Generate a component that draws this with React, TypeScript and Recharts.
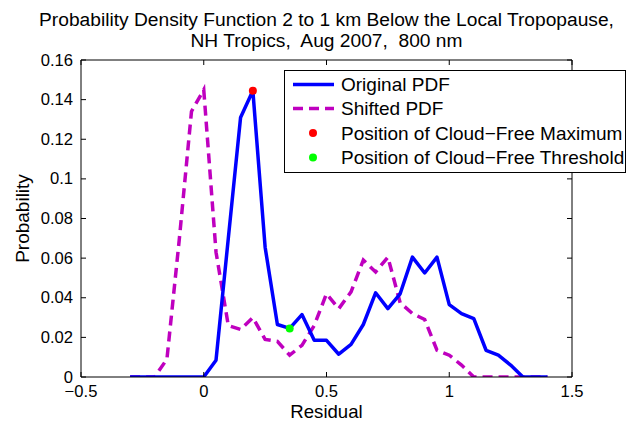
import React from 'react';
import { ComposedChart, Line, XAxis, YAxis, ReferenceDot } from 'recharts';

// Residual bin centres shared by both curves
const BINS = [
  -0.3, -0.25, -0.2, -0.15, -0.1, -0.05, 0, 0.05, 0.1, 0.15, 0.2, 0.25,
  0.3, 0.35, 0.4, 0.45, 0.5, 0.55, 0.6, 0.65, 0.7, 0.75, 0.8, 0.85, 0.9,
  0.95, 1.0, 1.05, 1.1, 1.15, 1.2, 1.25, 1.3, 1.35, 1.4,
];

const ORIGINAL_PDF = [
  0, 0, 0, 0, 0, 0, 0, 0.0085, 0.07, 0.131, 0.1445, 0.0655,
  0.0265, 0.0245, 0.0315, 0.0185, 0.0185, 0.0115, 0.0165, 0.0265, 0.0425, 0.0345, 0.042, 0.0605, 0.0525,
  0.0605, 0.0365, 0.032, 0.0295, 0.0135, 0.011, 0.006, 0, 0, 0,
];

const SHIFTED_PDF = [
  0, 0, 0, 0.009, 0.069, 0.134, 0.145, 0.063, 0.026, 0.024, 0.03, 0.019,
  0.018, 0.011, 0.016, 0.026, 0.042, 0.0345, 0.043, 0.059, 0.053, 0.0605, 0.0375, 0.032, 0.029,
  0.0135, 0.011, 0.006, 0, 0, 0, 0, 0, 0, 0,
];

const MAX_POINT = { x: 0.2, y: 0.1445 };
const THRESHOLD_POINT = { x: 0.35, y: 0.0245 };

const X_TICKS = [-0.5, 0, 0.5, 1, 1.5];
const Y_TICKS = [0, 0.02, 0.04, 0.06, 0.08, 0.1, 0.12, 0.14, 0.16];

const TITLE_LINES = [
  'Probability Density Function 2 to 1 km Below the Local Tropopause,',
  'NH Tropics,  Aug 2007,  800 nm',
];

const FONT = '"Liberation Sans", Arial, Helvetica, sans-serif';
const WIDTH = 630;
const HEIGHT = 423;
// axes take 1px each, so the plot box lands at x 81..572, y 60..377
const MARGIN = { top: 59, right: 57, bottom: 45, left: 80 };
const PLOT = { left: 81, right: 572, top: 60, bottom: 377 };
const TICK_LEN = 5;
const TICK_FONT = 16.6;
const LABEL_FONT = 19;
const BLUE = '#0000ff';
const MAGENTA = '#bf00bf';

const chartData = BINS.map((x, i) => ({
  x,
  original: ORIGINAL_PDF[i],
  shifted: SHIFTED_PDF[i],
}));

const fmt = (v: number) => (v < 0 ? '\u2212' + Math.abs(v) : String(v));

// MATLAB-style ticks: marks point into the plot box, labels sit outside
const BottomTick = ({ x, y, payload }: any) => (
  <g>
    <line x1={x} x2={x} y1={y} y2={y - TICK_LEN} stroke="#000" />
    <text x={x} y={y + 20} textAnchor="middle" fontSize={TICK_FONT} fontFamily={FONT} fill="#000">
      {fmt(payload.value)}
    </text>
  </g>
);

const TopTick = ({ x, y }: any) => (
  <line x1={x} x2={x} y1={y} y2={y + TICK_LEN} stroke="#000" />
);

const LeftTick = ({ x, y, payload }: any) => (
  <g>
    <line x1={x} x2={x + TICK_LEN} y1={y} y2={y} stroke="#000" />
    <text x={x - 8} y={y + 5.5} textAnchor="end" fontSize={TICK_FONT} fontFamily={FONT} fill="#000">
      {fmt(payload.value)}
    </text>
  </g>
);

const RightTick = ({ x, y }: any) => (
  <line x1={x} x2={x - TICK_LEN} y1={y} y2={y} stroke="#000" />
);

const legendRows = [
  { label: 'Original PDF', kind: 'solid', color: BLUE, cy: 84.5 },
  { label: 'Shifted PDF', kind: 'dashed', color: MAGENTA, cy: 108.5 },
  { label: 'Position of Cloud\u2212Free Maximum', kind: 'dot', color: '#ff0000', cy: 133 },
  { label: 'Position of Cloud\u2212Free Threshold', kind: 'dot', color: '#00ff00', cy: 157.5 },
];

const Overlay = () => {
  const cx = (PLOT.left + PLOT.right) / 2;
  const cy = (PLOT.top + PLOT.bottom) / 2;
  return (
    <svg
      width={WIDTH}
      height={HEIGHT}
      style={{ position: 'absolute', left: 0, top: 0, pointerEvents: 'none', whiteSpace: 'pre' }}
      fontFamily={FONT}
    >
      {TITLE_LINES.map((t, i) => (
        <text key={t} x={cx} y={25.5 + i * 21} textAnchor="middle" fontSize={19.2} fill="#000" xmlSpace="preserve">
          {t}
        </text>
      ))}
      <text x={cx} y={418} textAnchor="middle" fontSize={18.6} fill="#000">
        Residual
      </text>
      <text
        transform={`translate(29, ${cy}) rotate(-90)`}
        textAnchor="middle"
        fontSize={LABEL_FONT}
        fill="#000"
      >
        Probability
      </text>

      <rect x={284.5} y={70.5} width={341} height={102} fill="#fff" stroke="#000" />
      {legendRows.map((r) => (
        <g key={r.label}>
          {r.kind === 'dot' ? (
            <circle cx={313} cy={r.cy} r={4} fill={r.color} />
          ) : (
            <line
              x1={293}
              x2={334}
              y1={r.cy}
              y2={r.cy}
              stroke={r.color}
              strokeWidth={3.5}
              strokeDasharray={r.kind === 'dashed' ? '10 6' : undefined}
            />
          )}
          <text x={341} y={r.cy + 6.5} fontSize={LABEL_FONT} fill="#000">
            {r.label}
          </text>
        </g>
      ))}
    </svg>
  );
};

const App: React.FC = () => {
  return (
    <div
      style={{
        position: 'absolute',
        left: 0,
        top: 0,
        width: WIDTH,
        height: HEIGHT,
        background: '#fff',
        fontFamily: FONT,
      }}
    >
      <ComposedChart width={WIDTH} height={HEIGHT} data={chartData} margin={MARGIN}>
        <XAxis
          dataKey="x"
          type="number"
          domain={[-0.5, 1.5]}
          ticks={X_TICKS}
          allowDataOverflow
          height={1}
          tickSize={0}
          tickMargin={0}
          tick={<BottomTick />}
          axisLine={{ stroke: '#000' }}
        />
        <XAxis
          xAxisId="top"
          orientation="top"
          dataKey="x"
          type="number"
          domain={[-0.5, 1.5]}
          ticks={X_TICKS}
          allowDataOverflow
          height={1}
          tickSize={0}
          tickMargin={0}
          tick={<TopTick />}
          axisLine={{ stroke: '#000' }}
        />
        <YAxis
          type="number"
          domain={[0, 0.16]}
          ticks={Y_TICKS}
          allowDataOverflow
          width={1}
          tickSize={0}
          tickMargin={0}
          tick={<LeftTick />}
          axisLine={{ stroke: '#000' }}
        />
        <YAxis
          yAxisId="right"
          orientation="right"
          type="number"
          domain={[0, 0.16]}
          ticks={Y_TICKS}
          allowDataOverflow
          width={1}
          tickSize={0}
          tickMargin={0}
          tick={<RightTick />}
          axisLine={{ stroke: '#000' }}
        />
        <Line
          type="linear"
          dataKey="shifted"
          stroke={MAGENTA}
          strokeWidth={3.5}
          strokeDasharray="10 6"
          dot={false}
          activeDot={false}
          isAnimationActive={false}
        />
        <Line
          type="linear"
          dataKey="original"
          stroke={BLUE}
          strokeWidth={3.5}
          strokeLinejoin="round"
          dot={false}
          activeDot={false}
          isAnimationActive={false}
        />
        <ReferenceDot x={MAX_POINT.x} y={MAX_POINT.y} r={4} fill="#ff0000" stroke="none" ifOverflow="visible" />
        <ReferenceDot
          x={THRESHOLD_POINT.x}
          y={THRESHOLD_POINT.y}
          r={4}
          fill="#00ff00"
          stroke="none"
          ifOverflow="visible"
        />
      </ComposedChart>
      <Overlay />
    </div>
  );
};

export default App;
